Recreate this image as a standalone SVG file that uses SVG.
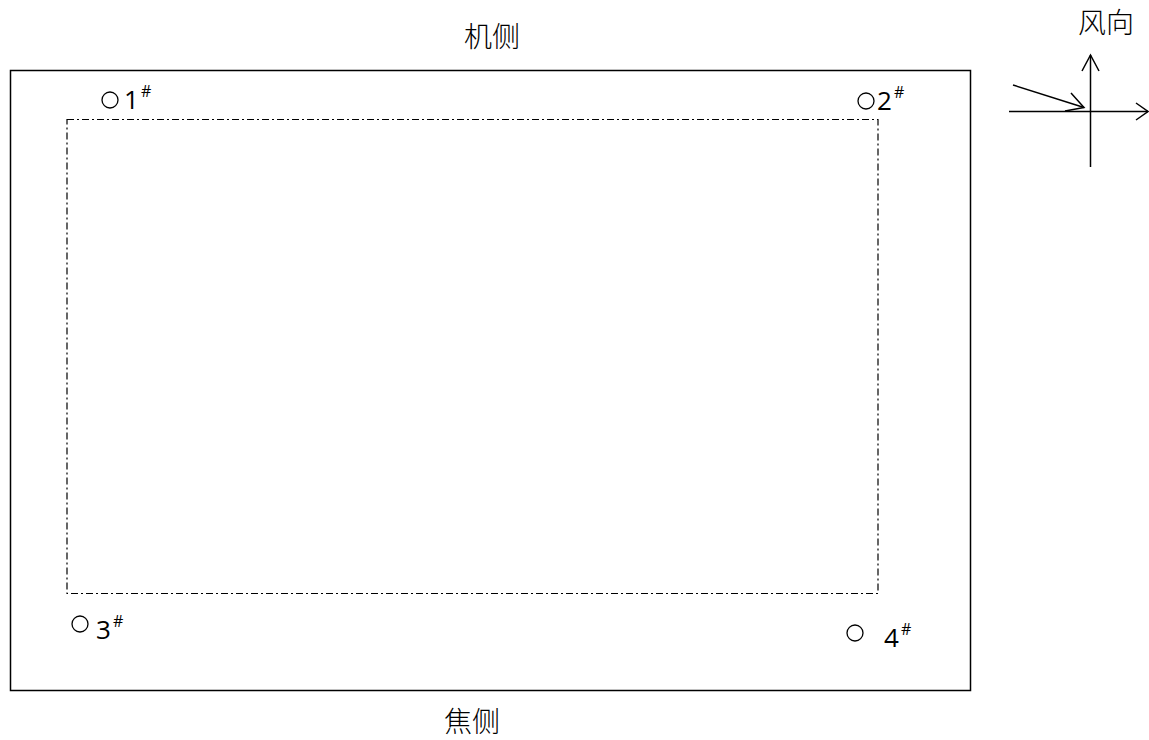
<svg xmlns="http://www.w3.org/2000/svg" width="1149" height="740" viewBox="0 0 1149 740">
<style>
.frame{fill:none;stroke:#000;stroke-width:1.5}
.dash{fill:none;stroke:#000;stroke-width:1.2;stroke-dasharray:7 3 2 3}
.hole{fill:none;stroke:#000;stroke-width:1.3}
.num{font-family:"Open Sans","Liberation Sans",sans-serif;font-size:26px;fill:#000}
.sup{font-family:"Open Sans","Liberation Sans",sans-serif;font-size:16px;fill:#000}
.cjk{font-family:"Noto Sans CJK SC",sans-serif;font-size:28px;font-weight:300;fill:#000;text-anchor:middle}
.ln{stroke:#000;stroke-width:1.5;fill:none}
</style>
<rect width="1149" height="740" fill="#fff"/>
<g id="boundary">
<rect class="frame" x="10.5" y="70.5" width="960" height="620"/>
</g>
<g id="area">
<rect class="dash" x="67" y="119.5" width="811" height="474"/>
</g>
<g id="label-top"><text class="cjk" x="492" y="47">机侧</text></g>
<g id="label-bottom"><text class="cjk" x="472" y="732">焦侧</text></g>
<g id="p1">
<circle class="hole" cx="110" cy="100" r="8"/>
<text class="num" x="124" y="109">1</text><text class="sup" x="141" y="97">#</text>
</g>
<g id="p2">
<circle class="hole" cx="866" cy="101" r="8"/>
<text class="num" x="877" y="110">2</text><text class="sup" x="894" y="98">#</text>
</g>
<g id="p3">
<circle class="hole" cx="80" cy="624" r="8"/>
<text class="num" x="96" y="639">3</text><text class="sup" x="113" y="627">#</text>
</g>
<g id="p4">
<circle class="hole" cx="855" cy="633" r="8"/>
<text class="num" x="884" y="647">4</text><text class="sup" x="901" y="635">#</text>
</g>
<g id="wind">
<text class="cjk" x="1106" y="33">风向</text>
</g>
<g id="connectors">
<line class="ln" x1="1009" y1="111.5" x2="1148" y2="111.5"/>
<polyline class="ln" points="1136,103 1148,111.5 1136,120"/>
<line class="ln" x1="1090.5" y1="55" x2="1090.5" y2="167"/>
<polyline class="ln" points="1082,71 1090.5,55 1099,71"/>
<line class="ln" x1="1013" y1="85" x2="1084" y2="107.5"/>
<polyline class="ln" points="1071,93 1084,107.5 1065,111"/>
</g>
</svg>
